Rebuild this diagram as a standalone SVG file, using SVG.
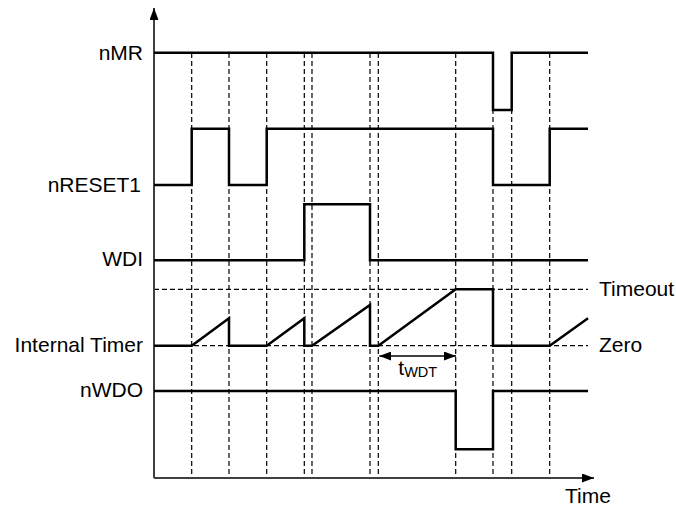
<svg xmlns="http://www.w3.org/2000/svg" width="676" height="510" viewBox="0 0 676 510">
<style>
.lbl{font-family:"Liberation Sans",Arial,sans-serif;font-size:21px;fill:#000}
.sig{fill:none;stroke:#000;stroke-width:2.5;stroke-linejoin:miter}
.dash{fill:none;stroke:#000;stroke-width:1.2;stroke-dasharray:5,3}
.axis{fill:none;stroke:#404040;stroke-width:2}
</style>
<defs>
<marker id="ah" viewBox="0 0 12 9" refX="12" refY="4.5" markerWidth="12" markerHeight="9" markerUnits="userSpaceOnUse" orient="auto-start-reverse"><path d="M0,0 L12,4.5 L0,9 z" fill="#000"/></marker>
</defs>
<rect width="676" height="510" fill="#fff"/>
<g id="grid">
<path class="dash" d="M191.7,53V478 M229,53V478 M266.7,53V478 M304.3,53V478 M312,53V478 M370,53V478 M378.3,53V478 M455.7,53V478 M493,53V478 M511.7,53V478 M549.7,53V478"/>
<path class="dash" d="M154,289.3H588 M154,345.7H588"/>
</g>
<g id="axes">
<path class="axis" d="M154,478V8" marker-end="url(#ah)"/>
<path class="axis" d="M154,478H594" marker-end="url(#ah)"/>
<text class="lbl" x="565" y="503.3">Time</text>
</g>
<g id="nMR">
<text class="lbl" x="143" y="60" text-anchor="end">nMR</text>
<path class="sig" d="M154,52.7H493V110H511.7V52.7H588"/>
</g>
<g id="nRESET1">
<text class="lbl" x="141" y="191.7" text-anchor="end">nRESET1</text>
<path class="sig" d="M154,185H191.7V128.7H229V185H266.7V128.7H493V185H549.7V128.7H588"/>
</g>
<g id="WDI">
<text class="lbl" x="143" y="266" text-anchor="end">WDI</text>
<path class="sig" d="M154,260.3H304.3V204.3H370V260.3H588"/>
</g>
<g id="timer">
<text class="lbl" x="143" y="352.3" text-anchor="end">Internal Timer</text>
<path class="sig" d="M154,345.7H191.7L229,318.3V345.7H266.7L304.3,318.3V345.7H312L370,305V345.7H378.3L455.7,289.3H493V345.7H549.7L588,318.3"/>
<text class="lbl" x="599" y="295.5">Timeout</text>
<text class="lbl" x="599" y="352">Zero</text>
</g>
<g id="nWDO">
<text class="lbl" x="143" y="396.7" text-anchor="end">nWDO</text>
<path class="sig" d="M154,391H455.7V449.3H493V391H588"/>
</g>
<g id="connectors">
<path d="M379.3,356H456" stroke="#000" stroke-width="1.5" fill="none" marker-start="url(#ah)" marker-end="url(#ah)"/>
<text class="lbl" x="398.3" y="375">t<tspan font-size="14.5" dy="2">WDT</tspan></text>
</g>
</svg>
